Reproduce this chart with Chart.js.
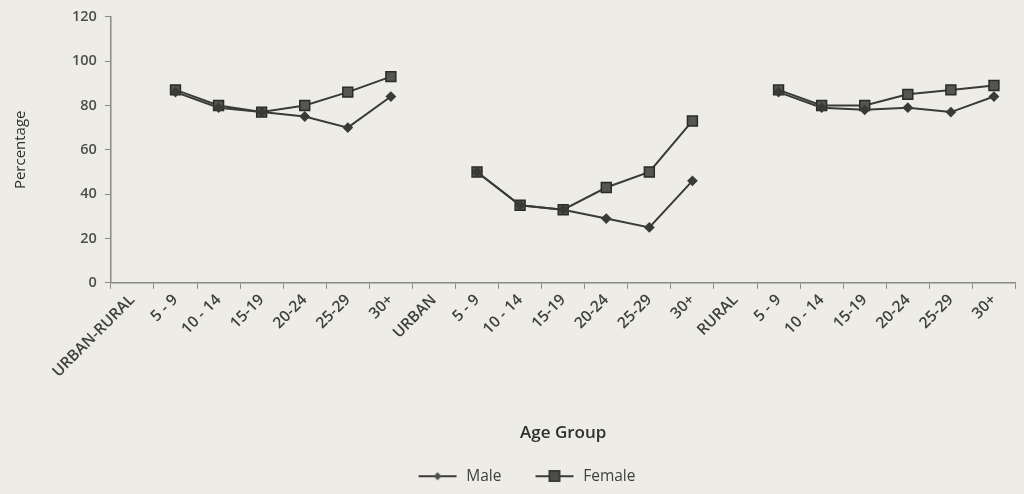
<!DOCTYPE html>
<html>
<head>
<meta charset="utf-8">
<script src="https://cdn.jsdelivr.net/npm/chart.js@4/dist/chart.umd.min.js"></script>
<style>
  html, body { margin: 0; padding: 0; background: #edece7; }
  #wrap { width: 1024px; height: 494px; }
</style>
</head>
<body>
<div id="wrap"><canvas id="chartAge"></canvas></div>
<script>
// --- datos ---
const categorias = [
    'URBAN-RURAL', '5 - 9', '10 - 14', '15-19', '20-24', '25-29', '30+',
    'URBAN', '5 - 9', '10 - 14', '15-19', '20-24', '25-29', '30+',
    'RURAL', '5 - 9', '10 - 14', '15-19', '20-24', '25-29', '30+'
];
const male   = [null, 86, 79, 77, 75, 70, 84,  null, 50, 35, 33, 29, 25, 46,  null, 86, 79, 78, 79, 77, 84];
const female = [null, 87, 80, 77, 80, 86, 93,  null, 50, 35, 33, 43, 50, 73,  null, 87, 80, 80, 85, 87, 89];
const yTicks = [0, 20, 40, 60, 80, 100, 120];

const ink = '#3a3a38';
const txt = '#3f3f3c';

// icono de leyenda: linea con marcador (margen vacio a la izquierda para separar items)
function legendIcon(shape) {
    const c = document.createElement('canvas');
    c.width = 64; c.height = 12;
    const g = c.getContext('2d');
    g.strokeStyle = ink; g.lineWidth = 2;
    g.beginPath(); g.moveTo(24, 6); g.lineTo(62, 6); g.stroke();
    g.fillStyle = '#4d4d4a';
    if (shape === 'rect') {
        g.fillRect(38, 1, 10, 10);
        g.strokeRect(38, 1, 10, 10);
    } else {
        g.beginPath(); g.moveTo(43, 2); g.lineTo(47, 6); g.lineTo(43, 10); g.lineTo(39, 6); g.closePath(); g.fill();
    }
    return c;
}

new Chart(document.getElementById('chartAge'), {
    type: 'line',
    data: {
        labels: categorias,
        datasets: [{
            label: 'Male',
            data: male,
            borderColor: ink,
            borderWidth: 2,
            pointStyle: 'rectRot',
            pointRadius: 4,
            pointBackgroundColor: '#3a3a38',
            pointBorderColor: ink,
            spanGaps: false,
            tension: 0
        }, {
            label: 'Female',
            data: female,
            borderColor: ink,
            borderWidth: 2,
            pointStyle: 'rect',
            pointRadius: 7,
            pointBackgroundColor: '#555552',
            pointBorderColor: '#2a2a28',
            pointBorderWidth: 1.5,
            spanGaps: false,
            tension: 0
        }]
    },
    options: {
        responsive: true,
        maintainAspectRatio: false,
        animation: false,
        layout: { padding: { top: 10, left: 8, right: 2, bottom: 0 } },
        plugins: {
            tooltip: { enabled: false },
            legend: {
                position: 'bottom',
                labels: {
                    font: { family: 'Open Sans', size: 15.5 },
                    color: txt,
                    usePointStyle: true,
                    pointStyleWidth: 64,
                    boxHeight: 12,
                    padding: 10,
                    generateLabels: (chart) => chart.data.datasets.map((ds, i) => ({
                        text: ds.label,
                        pointStyle: legendIcon(i === 0 ? 'rot' : 'rect'),
                        fontColor: txt,
                        datasetIndex: i,
                        hidden: false,
                        lineWidth: 0
                    }))
                }
            }
        },
        scales: {
            x: {
                offset: true,
                grid: { display: true, drawOnChartArea: false, offset: true, tickLength: 6, color: '#8a8a86' },
                border: { color: '#8a8a86', width: 1.5 },
                ticks: {
                    minRotation: 45, maxRotation: 45, autoSkip: false,
                    font: { family: 'Open Sans', size: 15.5, weight: '600' },
                    color: txt,
                    padding: 2
                },
                title: {
                    display: true, text: 'Age Group',
                    font: { family: 'Open Sans', size: 17, weight: '600' },
                    color: '#2f2f2c',
                    padding: { top: 40, bottom: 15 }
                }
            },
            y: {
                min: 0, max: 120,
                afterBuildTicks: (axis) => { axis.ticks = yTicks.map(v => ({ value: v })); },
                grid: { display: true, drawOnChartArea: false, tickLength: 6, color: '#8a8a86' },
                border: { color: '#8a8a86', width: 1.5 },
                ticks: {
                    font: { family: 'Open Sans', size: 14.5, weight: '600' },
                    color: '#4e4e4a',
                    padding: 8
                },
                title: {
                    display: true, text: 'Percentage',
                    font: { family: 'Open Sans', size: 15 },
                    color: '#2f2f2c',
                    padding: { bottom: 34 }
                }
            }
        }
    }
});
</script>
</body>
</html>
